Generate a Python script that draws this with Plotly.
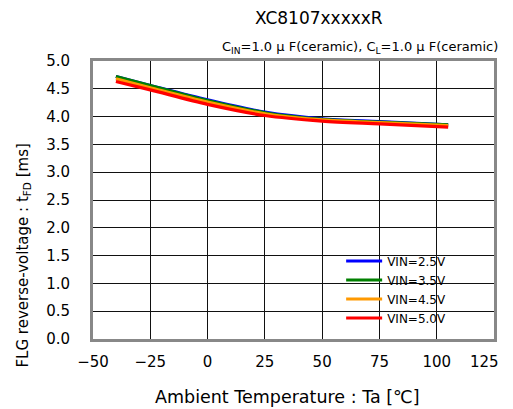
import plotly.graph_objects as go

temps = [-40, -25, 0, 25, 50, 75, 105]
vin_25 = [4.72, 4.56, 4.30, 4.08, 3.96, 3.91, 3.85]
vin_35 = [4.72, 4.56, 4.29, 4.07, 3.95, 3.90, 3.85]
vin_45 = [4.68, 4.52, 4.26, 4.05, 3.94, 3.89, 3.84]
vin_50 = [4.63, 4.48, 4.22, 4.02, 3.92, 3.87, 3.81]

series = [
    ("VIN=2.5V", vin_25, "#0000ff"),
    ("VIN=3.5V", vin_35, "#008000"),
    ("VIN=4.5V", vin_45, "#ff9900"),
    ("VIN=5.0V", vin_50, "#ff0000"),
]

xticks = [-50, -25, 0, 25, 50, 75, 100, 125]
xtick_labels = ["\u221250", "\u221225", "0", "25", "50", "75", "100", "125"]
yticks = [0.0, 0.5, 1.0, 1.5, 2.0, 2.5, 3.0, 3.5, 4.0, 4.5, 5.0]

FONT = "DejaVu Sans, Noto Sans CJK JP, sans-serif"

# The page body keeps the browser's default 8px margin; the plot area lands at page px 93..497 x 61..339.
OFF = 8
W, H = 513 - 2 * OFF, 409 - OFF
PW, PH = 404, 278
L, T = 93 - OFF, 61 - OFF
R = W - L - PW
B = H - T - PH

def px_x(x):
    return (x - 93) / PW

def px_y(y):
    return (339 - y) / PH

fig = go.Figure()
for name, vals, color in series:
    fig.add_trace(go.Scatter(x=temps, y=vals, name=name, mode="lines",
                             line=dict(color=color, width=3.2, shape="spline", smoothing=0.8)))

# the last tick label sits at the page edge, so it is kept inside the figure as an annotation
tick_text = xtick_labels[:-1] + [""]

fig.update_layout(
    width=W, height=H,
    margin=dict(l=L, r=R, t=T, b=B),
    paper_bgcolor="white", plot_bgcolor="white",
    font=dict(family=FONT, color="black", size=15),
    showlegend=True,
    legend=dict(x=px_x(343), y=px_y(246.5), xanchor="left", yanchor="top",
                bgcolor="rgba(255,255,255,0)", borderwidth=0,
                font=dict(size=12, family=FONT),
                tracegroupgap=0, itemwidth=36),
    shapes=[
        # white backdrop of the legend area, hiding the grid like the original
        dict(type="rect", xref="paper", yref="paper", layer="between",
             x0=px_x(307), x1=px_x(463), y0=px_y(323), y1=px_y(253),
             fillcolor="white", line=dict(width=0)),
    ],
    annotations=[
        dict(text="XC8107xxxxxR", x=px_x(321), y=px_y(18), xref="paper", yref="paper",
             xanchor="center", yanchor="middle", showarrow=False, font=dict(size=17)),
        dict(text="C<sub>IN</sub>=1.0 \u03bc F(ceramic), C<sub>L</sub>=1.0 \u03bc F(ceramic)",
             x=px_x(503), y=px_y(47), xref="paper", yref="paper", xanchor="right", yanchor="middle",
             showarrow=False, font=dict(size=13)),
        dict(text="Ambient Temperature : Ta [\u2103]", x=px_x(289), y=px_y(397),
             xref="paper", yref="paper", xanchor="center", yanchor="middle",
             showarrow=False, font=dict(size=17.5)),
        dict(text="FLG reverse-voltage : t<sub>FD</sub> [ms]", x=px_x(22), y=px_y(256),
             xref="paper", yref="paper", xanchor="center", yanchor="middle", textangle=-90,
             showarrow=False, font=dict(size=15)),
        dict(text=xtick_labels[-1], x=xticks[-1], xref="x", y=px_y(361.5), yref="paper",
             xanchor="right", yanchor="middle", xshift=7, showarrow=False,
             font=dict(size=15)),
    ],
)

fig.update_xaxes(
    range=[-50, 125], tickvals=xticks, ticktext=tick_text, ticks="", showgrid=True,
    gridcolor="#111111", gridwidth=1.3, zeroline=False,
    showline=True, linecolor="#888888", linewidth=3, mirror=True,
    ticklabelstandoff=7, tickfont=dict(size=15),
)
fig.update_yaxes(
    range=[0, 5], tickvals=yticks, tickformat=".1f", ticks="", showgrid=True,
    gridcolor="#111111", gridwidth=1.3, zeroline=False,
    showline=True, linecolor="#888888", linewidth=3, mirror=True,
    ticklabelstandoff=17, tickfont=dict(size=15),
)

fig.write_html("out.html")
